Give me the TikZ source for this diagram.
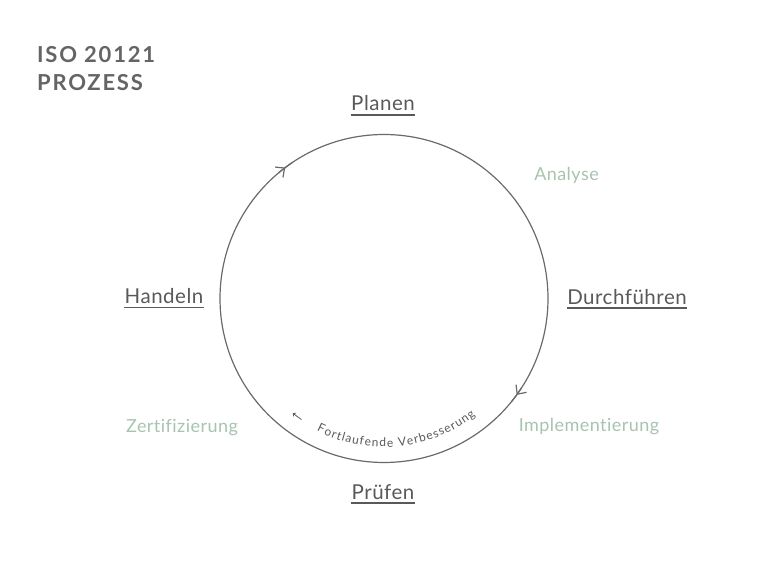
\documentclass[tikz,border=0pt]{standalone}
\usepackage{fontspec}
\setmainfont{Lato}[Ligatures={NoCommon,NoRequired,NoContextual}]
\newfontfamily\titlefont{Lato}[LetterSpace=8]
\newfontfamily\lblfont{Lato}[LetterSpace=2.5,Ligatures={NoCommon,NoRequired,NoContextual}]
\usetikzlibrary{arrows.meta,calc,decorations.markings,decorations.text}
\definecolor{txt}{HTML}{595959}
\definecolor{ttl}{HTML}{646464}
\definecolor{sage}{HTML}{A8C3AF}
\definecolor{ring}{HTML}{6A6A6A}
\tikzset{
  lbl/.style={inner sep=0pt, anchor=base, text=txt, font=\lblfont\fontsize{20.5}{24}\selectfont},
  sub/.style={inner sep=0pt, anchor=base, text=sage, font=\lblfont\fontsize{18}{21}\selectfont},
  ttlnode/.style={inner sep=0pt, anchor=base west, text=ttl, font=\titlefont\bfseries\fontsize{22}{26}\selectfont},
  uline/.style={draw=txt, line width=1.6pt},
  ring/.style={draw=ring, line width=1.2pt},
  barb/.style={ring, decoration={markings, mark=at position 0.5 with {\arrow[draw=ring, line width=1.2pt]{Straight Barb[length=7pt,width=13pt]}}}, postaction={decorate}},
}
\begin{document}
\begin{tikzpicture}[x=1pt,y=1pt]
\useasboundingbox (0,0) rectangle (768,587);
\coordinate (c) at (384,288.5);
% title
\node[ttlnode] (t1) at (37,524) {ISO 20121};
\node[ttlnode] (t2) at (37,496) {PROZESS};
% ring
\draw[ring] (c) circle (164);
\draw[barb] ($(c)+(130:164)$) arc[start angle=130, end angle=124, radius=164];
\draw[barb] ($(c)+(-33:164)$) arc[start angle=-33, end angle=-39, radius=164];
% small arrow
\draw[draw=txt, line width=0.8pt, -{Straight Barb[length=2pt,width=4pt]}] ($(c)+(-124.3:146.5)$) arc[start angle=-124.3, end angle=-128.5, radius=146.5];
% curved text
\path[decorate, decoration={text along path, text align=fit to path, text color=txt,
  text={|\fontsize{12}{14}\selectfont|Fortlaufende Verbesserung}}]
  ($(c)+(-117:148.5)$) arc[start angle=-117, end angle=-52, radius=148.5];
% main labels
\node[lbl] (plan) at (383,476) {Planen};
\node[lbl] (durch) at (627,283) {Durchführen};
\node[lbl] (hand) at (164,283.5) {Handeln};
\node[lbl] (pruef) at (383,88) {Prüfen};
\foreach \n in {plan,durch,hand,pruef}{
  \draw[uline] ([yshift=-4pt]\n.base west) -- ([yshift=-4pt]\n.base east);
}
% sub labels
\node[sub] (ana) at (566.5,406) {Analyse};
\node[sub] (impl) at (589,155.5) {Implementierung};
\node[sub] (zert) at (182,154.5) {Zertifizierung};
\end{tikzpicture}
\end{document}
